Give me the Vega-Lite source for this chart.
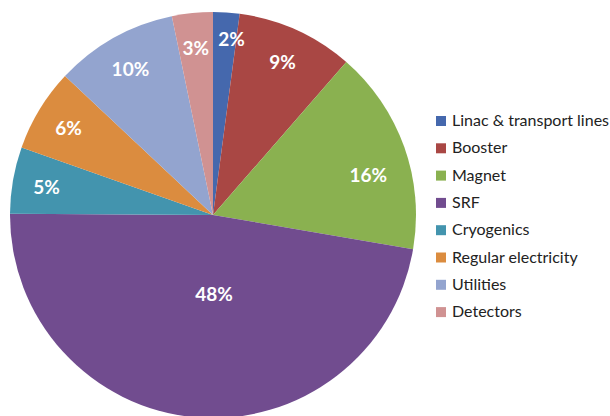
{
  "$schema": "https://vega.github.io/schema/vega-lite/v6.json",
  "width": 426,
  "height": 430,
  "autosize": "none",
  "padding": {"left": 0, "top": 0, "right": 184, "bottom": 0},
  "background": "white",
  "data": {
    "values": [
      {"i": 1, "category": "Linac & transport lines", "share": 2.1, "label": "2%"},
      {"i": 2, "category": "Booster", "share": 9.3, "label": "9%"},
      {"i": 3, "category": "Magnet", "share": 16.3, "label": "16%"},
      {"i": 4, "category": "SRF", "share": 47.4, "label": "48%"},
      {"i": 5, "category": "Cryogenics", "share": 5.3, "label": "5%"},
      {"i": 6, "category": "Regular electricity", "share": 6.6, "label": "6%"},
      {"i": 7, "category": "Utilities", "share": 9.75, "label": "10%"},
      {"i": 8, "category": "Detectors", "share": 3.25, "label": "3%"}
    ]
  },
  "encoding": {
    "theta": {"field": "share", "type": "quantitative", "stack": true},
    "order": {"field": "i", "type": "quantitative"},
    "color": {
      "field": "category",
      "type": "nominal",
      "sort": null,
      "scale": {
        "domain": ["Linac & transport lines", "Booster", "Magnet", "SRF", "Cryogenics", "Regular electricity", "Utilities", "Detectors"],
        "range": ["#4568AD", "#A94744", "#8AB150", "#714C8F", "#4394AE", "#DB8C3F", "#93A4CF", "#D09292"]
      },
      "legend": {
        "title": null,
        "orient": "none",
        "legendX": 433,
        "legendY": 113,
        "symbolType": "square",
        "symbolSize": 100,
        "symbolStrokeWidth": 0,
        "labelFont": "Lato",
        "labelFontSize": 16,
        "labelColor": "#222222",
        "labelOffset": 3,
        "rowPadding": 11.3,
        "labelLimit": 300
      }
    }
  },
  "layer": [
    {
      "mark": {"type": "arc", "outerRadius": 203}
    },
    {
      "mark": {"type": "text", "radius": 169, "dy": 2, "font": "Lato", "fontWeight": "bold", "fontSize": 19, "baseline": "middle", "align": "center"},
      "encoding": {
        "text": {"field": "label"},
        "color": {"value": "white"},
        "opacity": {"condition": {"test": "indexof(['SRF','Magnet','Linac & transport lines'], datum.category) >= 0", "value": 0}, "value": 1}
      }
    },
    {
      "mark": {"type": "text", "radius": 175, "dx": 7, "font": "Lato", "fontWeight": "bold", "fontSize": 19, "baseline": "middle", "align": "center"},
      "encoding": {
        "text": {"field": "label"},
        "color": {"value": "white"},
        "opacity": {"condition": {"test": "datum.category === 'Linac & transport lines'", "value": 1}, "value": 0}
      }
    },
    {
      "mark": {"type": "text", "radius": 168, "dx": -3, "dy": 17, "font": "Lato", "fontWeight": "bold", "fontSize": 19, "baseline": "middle", "align": "center"},
      "encoding": {
        "text": {"field": "label"},
        "color": {"value": "white"},
        "opacity": {"condition": {"test": "datum.category === 'Magnet'", "value": 1}, "value": 0}
      }
    },
    {
      "mark": {"type": "text", "radius": 80, "dx": 8, "font": "Lato", "fontWeight": "bold", "fontSize": 19, "baseline": "middle", "align": "center"},
      "encoding": {
        "text": {"field": "label"},
        "color": {"value": "white"},
        "opacity": {"condition": {"test": "datum.category === 'SRF'", "value": 1}, "value": 0}
      }
    }
  ]
}
